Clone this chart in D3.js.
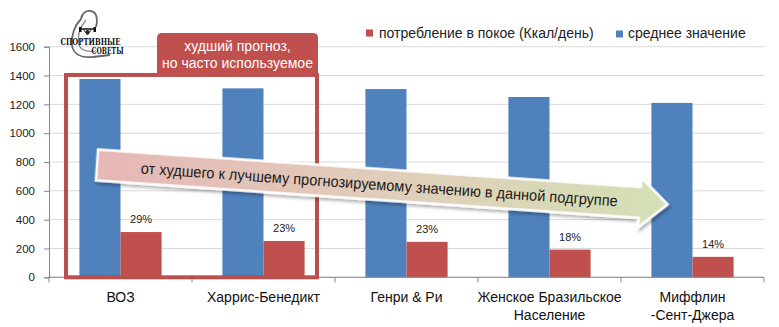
<!DOCTYPE html>
<html>
<head>
<meta charset="utf-8">
<script src="https://cdn.jsdelivr.net/npm/d3@7"></script>
<style>
  html, body { margin: 0; padding: 0; background: #fff; }
  svg { display: block; font-family: "Liberation Sans", Arial, sans-serif; }
</style>
</head>
<body>
<svg id="chart" width="779" height="327"></svg>
<script>
// Формулы расчёта основного обмена
const categories = ["ВОЗ", "Харрис-Бенедикт", "Генри & Ри", "Женское Бразильское|Население", "Миффлин|-Сент-Джера"];
const seriesNames = ["среднее значение", "потребление в покое (Ккал/день)"];
const meanValues = [1376, 1311, 1306, 1251, 1210];
const restValues = [314, 252, 246, 192, 142];
const restLabels = ["29%", "23%", "23%", "18%", "14%"];
const yTicks = [0, 200, 400, 600, 800, 1000, 1200, 1400, 1600];
const colors = { "среднее значение": "#4f81bd", "потребление в покое (Ккал/день)": "#c0504d" };
const legendOrder = ["потребление в покое (Ккал/день)", "среднее значение"];
const calloutLines = ["худший прогноз,", "но часто используемое"];
const arrowText = "от худшего к лучшему прогнозируемому значению в данной подгруппе";

const svg = d3.select("#chart");
const plotLeft = 49, plotRight = 764, plotTop = 46.7, plotBottom = 277.3;

const y = d3.scaleLinear().domain([0, 1600]).range([plotBottom, plotTop]);
const x0 = d3.scaleBand().domain(categories).range([plotLeft, plotRight]).padding(0);
const x1 = d3.scaleBand().domain(seriesNames).range([0, x0.bandwidth()]).paddingInner(0).paddingOuter(0.74);

const defs = svg.append("defs");
const grad = defs.append("linearGradient").attr("id", "arrowGrad")
  .attr("x1", "0%").attr("x2", "100%").attr("y1", "0%").attr("y2", "0%");
grad.append("stop").attr("offset", "0%").attr("stop-color", "#e6b7b6");
grad.append("stop").attr("offset", "50%").attr("stop-color", "#e0cdb9");
grad.append("stop").attr("offset", "100%").attr("stop-color", "#d4e0b6");
const shadow = defs.append("filter").attr("id", "shadow")
  .attr("x", "-5%").attr("y", "-40%").attr("width", "110%").attr("height", "180%");
shadow.append("feDropShadow").attr("dx", 2).attr("dy", 2.5).attr("stdDeviation", 1.8)
  .attr("flood-color", "#000").attr("flood-opacity", 0.3);

// сетка
svg.append("g").selectAll("line").data(yTicks).join("line")
  .attr("x1", plotLeft).attr("x2", plotRight)
  .attr("y1", d => y(d)).attr("y2", d => y(d))
  .attr("stroke", "#d9d9d9").attr("stroke-width", 1);

// ось Y
const yAxis = svg.append("g").attr("transform", `translate(${plotLeft},0)`)
  .call(d3.axisLeft(y).tickValues(yTicks).tickSize(5).tickPadding(9).tickFormat(d3.format("d")));
yAxis.select(".domain").attr("stroke", "#868686");
yAxis.selectAll(".tick line").attr("stroke", "#868686");
yAxis.selectAll(".tick text").attr("fill", "#222").attr("font-size", 11.5)
  .attr("font-family", "Liberation Sans, Arial, sans-serif");

// столбцы
const groups = svg.append("g").selectAll("g").data(categories).join("g")
  .attr("transform", d => `translate(${x0(d)},0)`);
groups.append("rect")
  .attr("x", x1("среднее значение")).attr("width", x1.bandwidth())
  .attr("y", (d, i) => y(meanValues[i])).attr("height", (d, i) => y(0) - y(meanValues[i]))
  .attr("fill", colors["среднее значение"]);
groups.append("rect")
  .attr("x", x1("потребление в покое (Ккал/день)")).attr("width", x1.bandwidth())
  .attr("y", (d, i) => y(restValues[i])).attr("height", (d, i) => y(0) - y(restValues[i]))
  .attr("fill", colors["потребление в покое (Ккал/день)"]);
groups.append("text")
  .attr("x", x1("потребление в покое (Ккал/день)") + x1.bandwidth() / 2)
  .attr("y", (d, i) => y(restValues[i]) - 9)
  .attr("text-anchor", "middle").attr("font-size", 11).attr("fill", "#222")
  .text((d, i) => restLabels[i]);

// ось X
const xAxis = svg.append("g").attr("transform", `translate(0,${plotBottom})`);
xAxis.append("line").attr("x1", plotLeft).attr("x2", plotRight).attr("stroke", "#868686");
xAxis.selectAll("line.tick").data(categories.concat([null])).join("line")
  .attr("class", "tick")
  .attr("x1", (d, i) => plotLeft + i * x0.step()).attr("x2", (d, i) => plotLeft + i * x0.step())
  .attr("y1", 0).attr("y2", 5).attr("stroke", "#868686");
const xLabels = xAxis.selectAll("text").data(categories).join("text")
  .attr("text-anchor", "middle").attr("font-size", 14).attr("fill", "#111")
  .attr("transform", d => `translate(${x0(d) + x0.bandwidth() / 2},0)`);
xLabels.selectAll("tspan").data(d => d.split("|")).join("tspan")
  .attr("x", 0).attr("y", (d, i) => 25 + i * 18).text(d => d);

// выделение двух формул
const hx0 = x0(categories[0]) + 17, hx1 = x0(categories[1]) + x0.bandwidth() - 18;
const hTop = y(1404);
svg.append("rect")
  .attr("x", hx0).attr("y", hTop).attr("width", hx1 - hx0).attr("height", y(0) - hTop)
  .attr("fill", "none").attr("stroke", "#b9504d").attr("stroke-width", 4);
const cx0 = x0(categories[1]) - 35, cx1 = hx1 + 1, cTop = 33, cBot = hTop + 1, r = 5;
svg.append("path")
  .attr("d", `M${cx0},${cBot} L${cx0},${cTop + r} Q${cx0},${cTop} ${cx0 + r},${cTop} L${cx1 - r},${cTop} Q${cx1},${cTop} ${cx1},${cTop + r} L${cx1},${cBot} Z`)
  .attr("fill", "#c0504d");
svg.append("g").selectAll("text").data(calloutLines).join("text")
  .attr("x", (cx0 + cx1) / 2).attr("y", (d, i) => 51 + i * 17)
  .attr("text-anchor", "middle").attr("font-size", 14).attr("fill", "#fff")
  .text(d => d);

// стрелка
const ax = 97, ay = 165, angle = 3.95, bodyLen = 544, headLen = 28, bh = 15.5, hh = 25;
const arrow = svg.append("g").attr("transform", `translate(${ax},${ay}) rotate(${angle})`);
arrow.append("path")
  .attr("d", `M0,${-bh} L${bodyLen},${-bh} L${bodyLen},${-hh} L${bodyLen + headLen},0 L${bodyLen},${hh} L${bodyLen},${bh} L0,${bh} Z`)
  .attr("fill", "url(#arrowGrad)").attr("stroke", "#fff").attr("stroke-width", 2.5)
  .attr("stroke-linejoin", "miter").attr("filter", "url(#shadow)");
arrow.append("text")
  .attr("x", 44).attr("y", 0).attr("dy", "0.35em")
  .attr("font-size", 15.5).attr("fill", "#1a1a1a")
  .attr("textLength", 478).attr("lengthAdjust", "spacingAndGlyphs")
  .text(arrowText);

// легенда
const legend = svg.append("g");
const legPos = [{ sx: 366, tx: 379 }, { sx: 616, tx: 628 }];
legendOrder.forEach((name, i) => {
  legend.append("rect").attr("x", legPos[i].sx).attr("y", 29.5 + i).attr("width", 7).attr("height", 7)
    .attr("fill", colors[name]);
  legend.append("text").attr("x", legPos[i].tx).attr("y", 37.5)
    .attr("font-size", 14).attr("fill", "#222").text(name);
});

// логотип
const logo = svg.append("g");
logo.append("path")
  .attr("d", "M96,27 C98,20 97,12 91,11 C86,10 82,13 81,19 C75,25 71,35 72,45 C73,54 81,58 93,57 L110,55")
  .attr("fill", "none").attr("stroke", "#666").attr("stroke-width", 1.8);
logo.append("path")
  .attr("d", "M86,20 C80,27 77,36 79,45 C81,51 88,52 96,51")
  .attr("fill", "none").attr("stroke", "#888").attr("stroke-width", 1.2);
logo.append("line").attr("x1", 79).attr("x2", 96).attr("y1", 29).attr("y2", 29)
  .attr("stroke", "#111").attr("stroke-width", 1.5);
logo.append("rect").attr("x", 79).attr("y", 27).attr("width", 2.5).attr("height", 5).attr("fill", "#111");
logo.append("rect").attr("x", 93.5).attr("y", 27).attr("width", 2.5).attr("height", 5).attr("fill", "#111");
logo.append("circle").attr("cx", 87.5).attr("cy", 32).attr("r", 2).attr("fill", "#222");
logo.append("path").attr("d", "M84,30 L87.5,35 L91,30").attr("fill", "none").attr("stroke", "#222").attr("stroke-width", 1);
logo.append("text").attr("x", 60.5).attr("y", 45)
  .attr("font-family", "DejaVu Serif, serif").attr("font-weight", "bold")
  .attr("font-size", 9).attr("textLength", 60).attr("lengthAdjust", "spacingAndGlyphs")
  .attr("fill", "#111").text("СПОРТИВНЫЕ");
logo.append("text").attr("x", 91.5).attr("y", 54)
  .attr("font-family", "DejaVu Serif, serif").attr("font-weight", "bold")
  .attr("font-size", 9).attr("textLength", 32).attr("lengthAdjust", "spacingAndGlyphs")
  .attr("fill", "#111").text("СОВЕТЫ");
</script>
</body>
</html>
